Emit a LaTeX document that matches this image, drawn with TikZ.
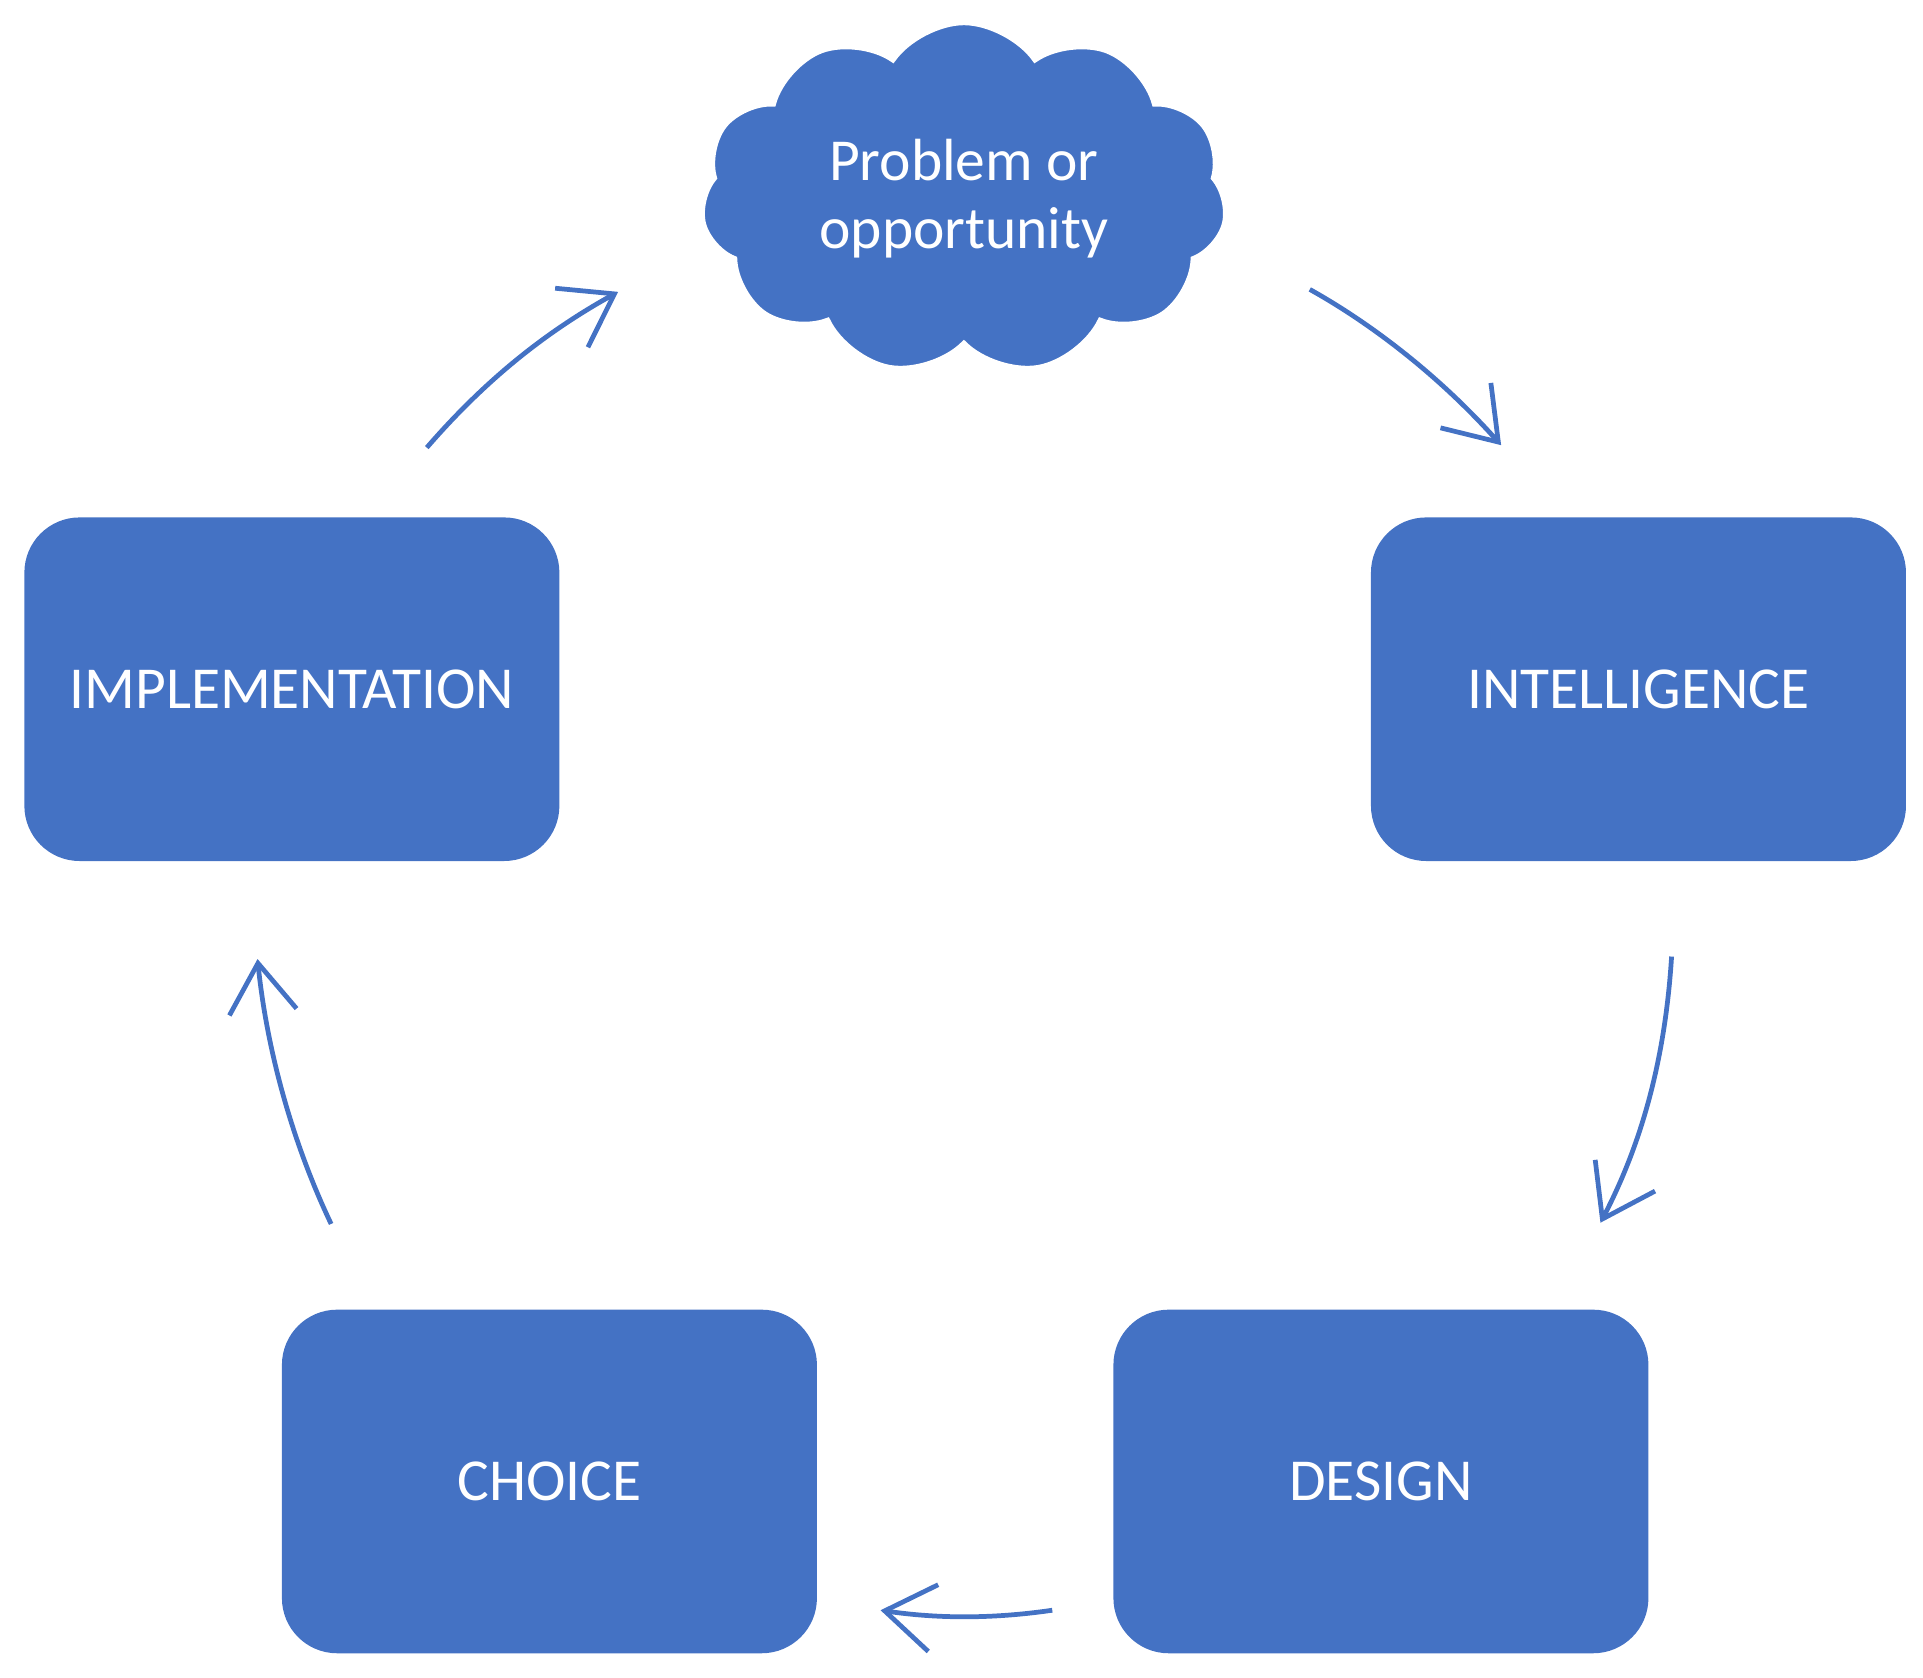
\documentclass[tikz,border=0pt]{standalone}
\usepackage{fontspec}
\setmainfont{Carlito}
\usetikzlibrary{shapes.symbols,arrows.meta}
\definecolor{boxblue}{RGB}{68,114,196}
\begin{document}
\begin{tikzpicture}[x=0.01cm,y=-0.01cm,
  box/.style={draw=none,fill=boxblue,rounded corners=0.45cm,minimum width=4.36cm,minimum height=2.8cm,text=white,font=\fontsize{13.8}{16}\selectfont},
  conn/.style={draw=boxblue,line width=1.1pt,-{Straight Barb[length=0.4cm,width=0.55cm,line width=1.1pt]}}]
\useasboundingbox (0,0) rectangle (1568,1368);
\node[box] (impl) at (238,562) {IMPLEMENTATION};
\node[box] (intel) at (1336,562) {INTELLIGENCE};
\node[box] (choice) at (448,1208) {CHOICE};
\node[box] (design) at (1126,1208) {DESIGN};
\node[cloud,cloud puffs=11,cloud puff arc=110,aspect=1.5,fill=boxblue,draw=white,line width=1.5pt,minimum width=4.3cm,minimum height=2.8cm,text=white,align=center,font=\fontsize{13.8}{15.6}\selectfont] (cloud) at (786,162) {Problem or\\opportunity};
\coordinate (a1) at (348,365); \coordinate (b1) at (504,238);
\coordinate (a2) at (1068,236); \coordinate (b2) at (1224,363);
\coordinate (a3) at (1363,780); \coordinate (b3) at (1305,997);
\coordinate (a4) at (858,1313); \coordinate (b4) at (718,1313);
\coordinate (a5) at (270,998); \coordinate (b5) at (210,782);
\draw[conn] (a1) .. controls (400,305) and (450,268) .. (b1);
\draw[conn] (a2) .. controls (1120,265) and (1175,308) .. (b2);
\draw[conn] (a3) .. controls (1358,860) and (1340,930) .. (b3);
\draw[conn] (a4) .. controls (810,1320) and (765,1320) .. (b4);
\draw[conn] (a5) .. controls (240,935) and (218,860) .. (b5);
\end{tikzpicture}
\end{document}
